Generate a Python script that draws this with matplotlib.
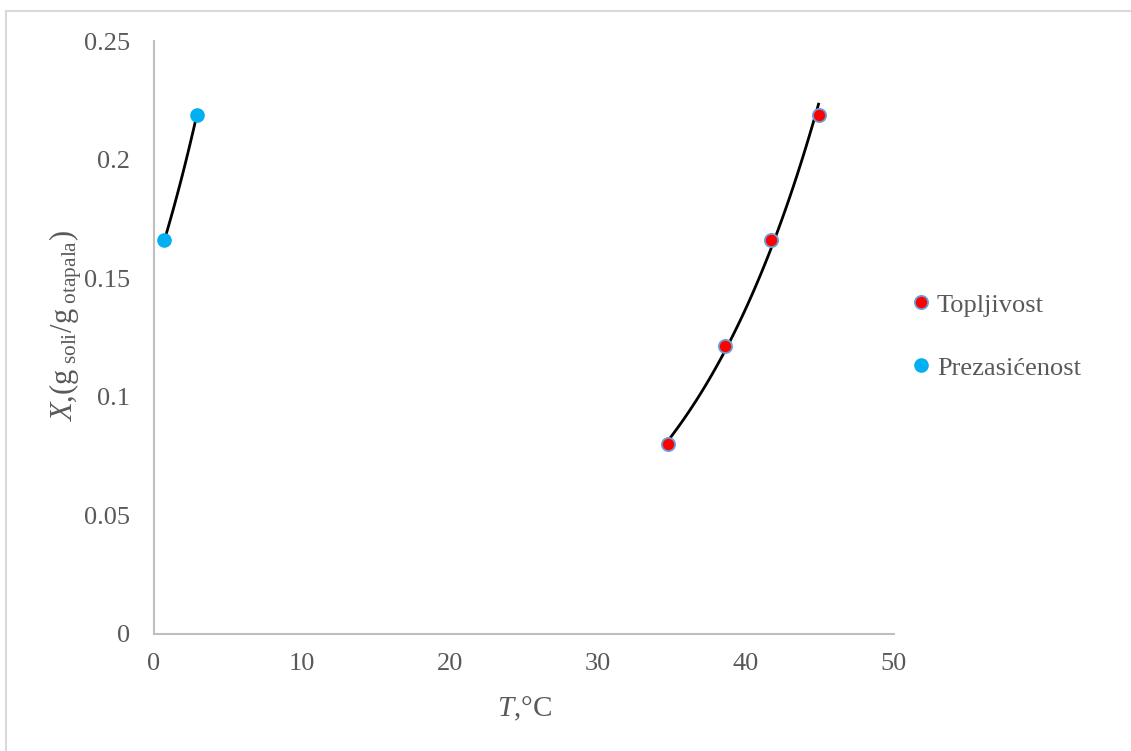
import numpy as np
import matplotlib
matplotlib.use("Agg")
import matplotlib.pyplot as plt
from matplotlib.patches import Rectangle

plt.rcParams["font.family"] = ["Liberation Serif", "DejaVu Serif"]
plt.rcParams["mathtext.fontset"] = "custom"
plt.rcParams["mathtext.rm"] = "Liberation Serif"
plt.rcParams["mathtext.it"] = "Liberation Serif:italic"

# data
topljivost_t = [34.7, 38.6, 41.7, 44.9]
topljivost_x = [0.080, 0.1214, 0.166, 0.219]
prezas_t = [0.7, 2.9]
prezas_x = [0.166, 0.219]

GRAY_TXT = "#595959"
AXIS_COL = "#BFBFBF"

fig = plt.figure(figsize=(11.31, 7.51), dpi=100)
ax = fig.add_axes([154 / 1131, 1 - 634 / 751, (894 - 154) / 1131, (634 - 41) / 751])


def exp_trend(t, x, n=100):
    # exponential trendline, like the spreadsheet one
    b = np.polyfit(t, np.log(x), 1)
    tt = np.linspace(min(t), max(t), n)
    return tt, np.exp(np.polyval(b, tt))


ax.plot(*exp_trend(topljivost_t, topljivost_x), color="black", lw=2, zorder=2)
ax.plot(*exp_trend(prezas_t, prezas_x), color="black", lw=2, zorder=2)

ax.plot(topljivost_t, topljivost_x, "o", ms=9.5, mfc="#FF0000", mec="#6A9FD8",
        mew=1.3, ls="none", label="Topljivost", zorder=3)
ax.plot(prezas_t, prezas_x, "o", ms=9.5, mfc="#00B0F0", mec="#00B0F0",
        ls="none", label="Prezasićenost", zorder=3)

ax.set_xlim(0, 50)
ax.set_ylim(0, 0.25)
ax.set_xticks([0, 10, 20, 30, 40, 50])
ax.set_yticks([0, 0.05, 0.1, 0.15, 0.2, 0.25])
ax.set_yticklabels(["0", "0.05", "0.1", "0.15", "0.2", "0.25"])
ax.tick_params(length=0, labelsize=19, colors=GRAY_TXT)
ax.tick_params(axis="x", pad=14)
ax.tick_params(axis="y", pad=17)
for s in ["top", "right"]:
    ax.spines[s].set_visible(False)
for s in ["left", "bottom"]:
    ax.spines[s].set_color(AXIS_COL)
    ax.spines[s].set_linewidth(1.5)

ax.set_xlabel(r"$T$,°C", fontsize=21, color=GRAY_TXT, labelpad=14)
ax.set_ylabel(r"$X$,(g$_{\mathrm{\ soli}}$/g$_{\mathrm{\ otapala}}$)",
              fontsize=22, color=GRAY_TXT)
ax.yaxis.set_label_coords(-0.095, 0.52)

ax.legend(loc="center left", bbox_to_anchor=(0.994, 0.502), frameon=False,
          fontsize=19, handlelength=0.6, handletextpad=0.3,
          labelspacing=1.5, labelcolor=GRAY_TXT)

fig.patches.append(Rectangle((6 / 1131, -0.01), 1.1, 1 - 11 / 751 + 0.01,
                             transform=fig.transFigure, fill=False,
                             edgecolor="#D9D9D9", lw=1.5))

fig.savefig("out.png", dpi=100)
